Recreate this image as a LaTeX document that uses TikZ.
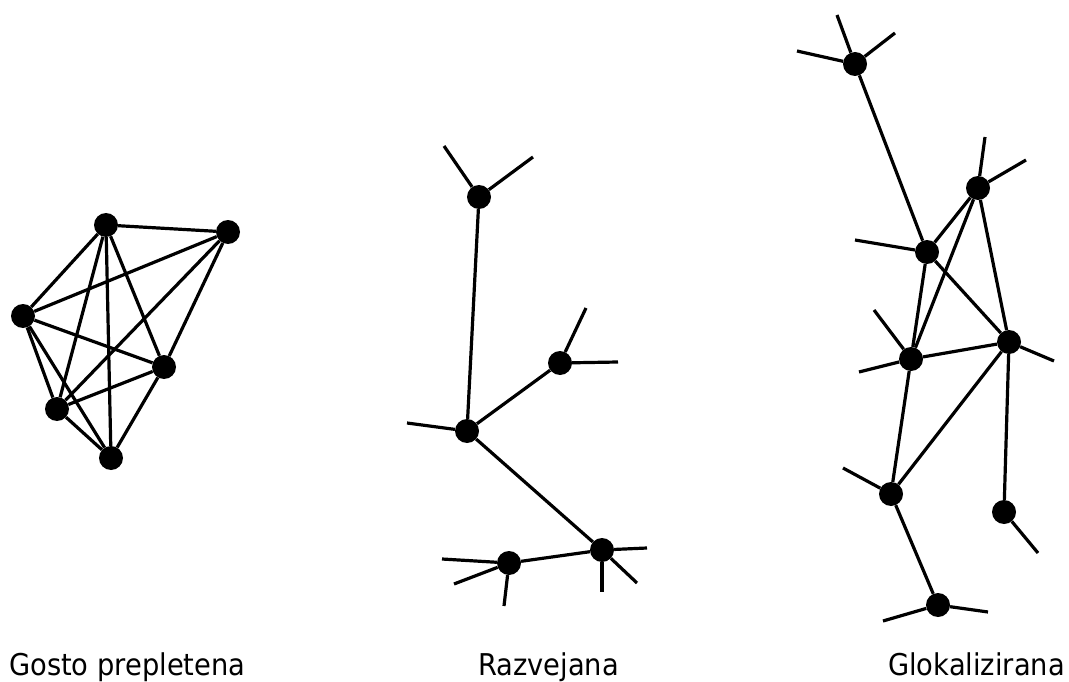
\documentclass[tikz,border=0pt]{standalone}
\usepackage{fontspec}
\setmainfont{DejaVu Sans}[FakeStretch=0.91]
\begin{document}
\begin{tikzpicture}[x=1pt,y=-1pt,
  dot/.style={circle,fill=black,inner sep=0pt,minimum size=24pt},
  link/.style={line width=3.2pt},
  caption/.style={anchor=base west,inner sep=0pt,font=\fontsize{30}{36}\selectfont}]
\useasboundingbox (0,0) rectangle (1069,682);

% --- dense mesh ---
\node[dot] (a) at (106,225) {};
\node[dot] (b) at (228,232) {};
\node[dot] (c) at (23,316) {};
\node[dot] (d) at (164,367) {};
\node[dot] (e) at (57,409) {};
\node[dot] (f) at (111,458) {};
\foreach \u/\v in {a/b,a/c,a/d,a/e,a/f,b/c,b/d,b/e,c/d,c/e,c/f,d/e,d/f,e/f}
  \draw[link] (\u) -- (\v);

% --- branching tree ---
\node[dot] (n1) at (479,197) {};
\node[dot] (n2) at (560,363) {};
\node[dot] (n3) at (467,431) {};
\node[dot] (n4) at (602,550) {};
\node[dot] (n5) at (509,563) {};
\coordinate (n1a) at (444,146);
\coordinate (n1b) at (533,157);
\coordinate (n2a) at (586,308);
\coordinate (n2b) at (618,362);
\coordinate (n3a) at (407,423);
\coordinate (n4a) at (647,548);
\coordinate (n4b) at (637,583);
\coordinate (n4c) at (602,592);
\coordinate (n5a) at (442,559);
\coordinate (n5b) at (454,584);
\coordinate (n5c) at (504,606);
\foreach \u/\v in {n1/n3,n3/n2,n3/n4,n4/n5,
  n1/n1a,n1/n1b,n2/n2a,n2/n2b,n3/n3a,n4/n4a,n4/n4b,n4/n4c,n5/n5a,n5/n5b,n5/n5c}
  \draw[link] (\u) -- (\v);

% --- glocalized network ---
\node[dot] (g1) at (855,64) {};
\node[dot] (g2) at (978,188) {};
\node[dot] (g3) at (927,252) {};
\node[dot] (g4) at (911,359) {};
\node[dot] (g5) at (1009,342) {};
\node[dot] (g6) at (891,494) {};
\node[dot] (g7) at (1004,512) {};
\node[dot] (g8) at (938,605) {};
\coordinate (g1a) at (837,15);
\coordinate (g1b) at (895,33);
\coordinate (g1c) at (797,51);
\coordinate (g2a) at (985,137);
\coordinate (g2b) at (1026,160);
\coordinate (g3a) at (855,240);
\coordinate (g4a) at (874,310);
\coordinate (g4b) at (859,372);
\coordinate (g5a) at (1054,361);
\coordinate (g6a) at (843,468);
\coordinate (g7a) at (1038,553);
\coordinate (g8a) at (883,621);
\coordinate (g8b) at (988,612);
\foreach \u/\v in {g1/g3,g3/g2,g2/g4,g2/g5,g3/g5,g3/g4,g4/g5,g4/g6,g5/g6,g5/g7,g6/g8,
  g1/g1a,g1/g1b,g1/g1c,g2/g2a,g2/g2b,g3/g3a,g4/g4a,g4/g4b,g5/g5a,g6/g6a,g7/g7a,g8/g8a,g8/g8b}
  \draw[link] (\u) -- (\v);

% --- captions ---
\node[caption] (t1) at (9,675) {Gosto prepletena};
\node[caption] (t2) at (478,675) {Razvejana};
\node[caption] (t3) at (888,675) {Glokalizirana};
\end{tikzpicture}
\end{document}
